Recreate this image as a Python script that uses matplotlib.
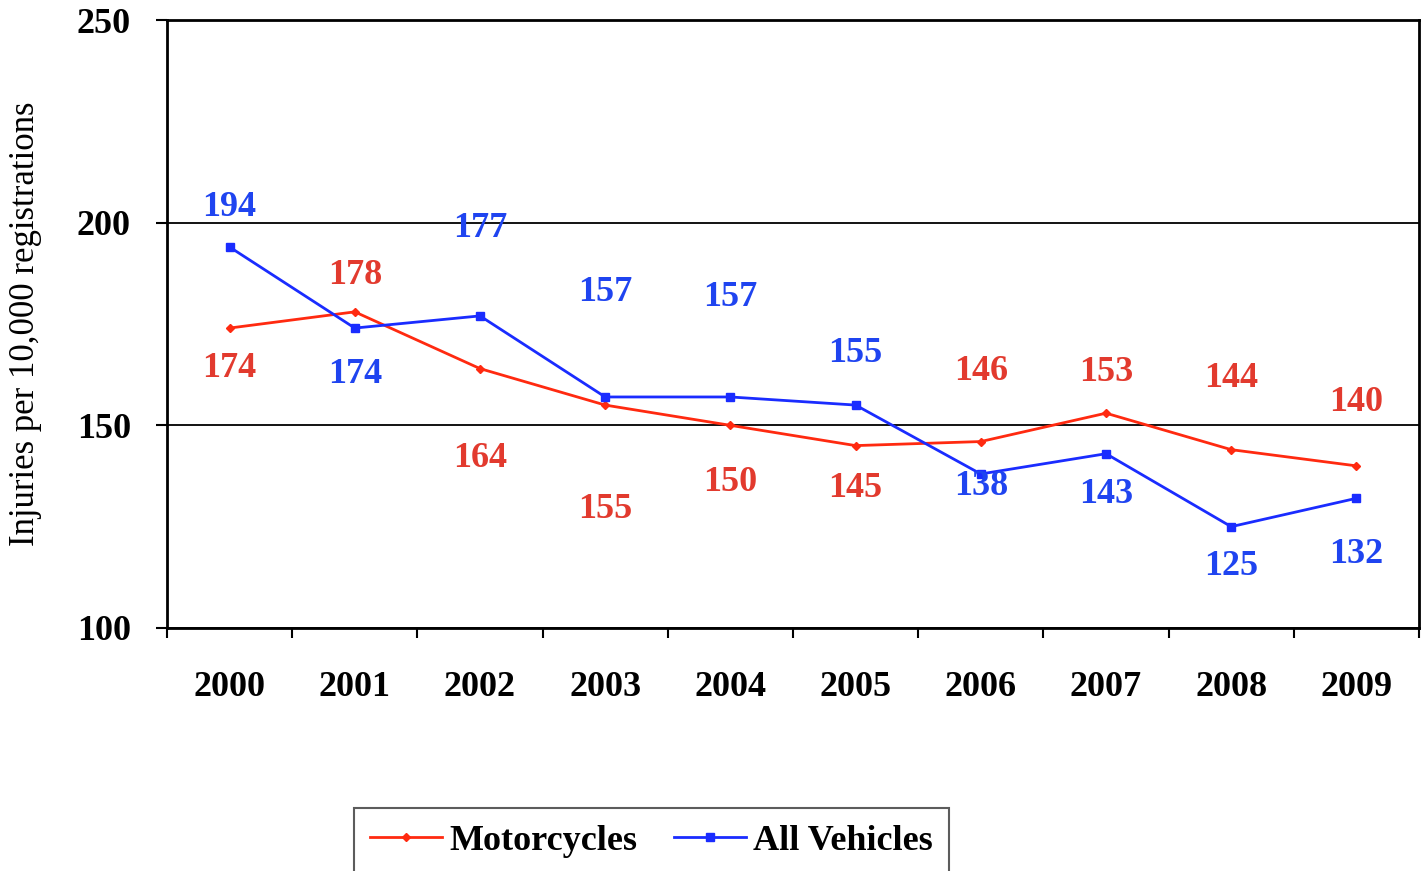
import matplotlib
matplotlib.use('Agg')
import matplotlib.pyplot as plt
import numpy as np

years = ['2000', '2001', '2002', '2003', '2004', '2005', '2006', '2007', '2008', '2009']
motorcycles = [174, 178, 164, 155, 150, 145, 146, 153, 144, 140]
all_vehicles = [194, 174, 177, 157, 157, 155, 138, 143, 125, 132]

# label offsets in pixels (positive = above the point)
moto_off = [-40, 36, -90, -104, -57, -43, 70, 41, 71, 63]
all_off = [40, -46, 87, 104, 99, 52, -13, -41, -40, -56]

RED_LINE = '#ff2a10'
RED_TEXT = '#e23a2e'
BLUE_LINE = '#1a2cff'
BLUE_TEXT = '#1f44f0'

plt.rcParams['font.family'] = ['Liberation Serif', 'DejaVu Serif']

fig = plt.figure(figsize=(14.27, 8.71), dpi=100)
ax = fig.add_axes([0.117, 0.279, 0.8774, 0.698])

x = np.arange(len(years))
ax.plot(x, motorcycles, color=RED_LINE, lw=2, marker='D', ms=4.5, label='Motorcycles', zorder=3)
ax.plot(x, all_vehicles, color=BLUE_LINE, lw=2, marker='s', ms=6, label='All Vehicles', zorder=3)

for xi, v, off in zip(x, motorcycles, moto_off):
    ax.annotate(str(v), (xi, v), xytext=(0, off * 0.72), textcoords='offset points',
                ha='center', va='center', color=RED_TEXT, fontsize=26, fontweight='bold')
for xi, v, off in zip(x, all_vehicles, all_off):
    ax.annotate(str(v), (xi, v), xytext=(0, off * 0.72), textcoords='offset points',
                ha='center', va='center', color=BLUE_TEXT, fontsize=26, fontweight='bold')

ax.set_xlim(-0.5, len(years) - 0.5)
ax.set_ylim(100, 250)
ax.set_yticks([100, 150, 200, 250])
ax.yaxis.grid(True, color='black', lw=1.3)
ax.set_axisbelow(True)

ax.set_xticks(np.arange(len(years) + 1) - 0.5)
ax.set_xticklabels([])
ax.set_xticks(x, minor=True)
ax.set_xticklabels(years, minor=True)
ax.tick_params(axis='x', which='major', direction='out', length=7, width=1.5)
ax.tick_params(axis='x', which='minor', length=0, pad=31, labelsize=26)
ax.tick_params(axis='y', direction='out', length=8, width=1.5, pad=18, labelsize=26)
for lab in ax.get_xticklabels(minor=True) + ax.get_yticklabels():
    lab.set_fontweight('bold')

for s in ax.spines.values():
    s.set_linewidth(2)

ax.set_ylabel('Injuries per 10,000 registrations', fontsize=25)
ax.yaxis.set_label_coords(-0.1, 0.5)

leg = fig.legend(loc='center', bbox_to_anchor=(0.4566, 0.034), ncol=2, frameon=True,
                 fancybox=False, edgecolor='#333333', prop={'size': 26, 'weight': 'bold'},
                 handlelength=2.0, handletextpad=0.2, columnspacing=1.0, borderpad=0.45)
leg.get_frame().set_linewidth(1.5)

fig.savefig('out.png', dpi=100)
